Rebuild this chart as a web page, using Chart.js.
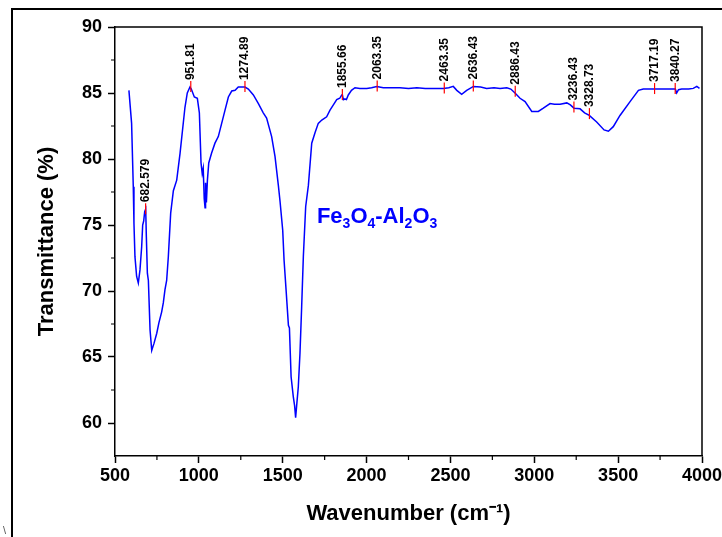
<!DOCTYPE html>
<html>
<head>
<meta charset="utf-8">
<script src="https://cdn.jsdelivr.net/npm/chart.js@4/dist/chart.umd.min.js"></script>
<style>
html,body{margin:0;padding:0;background:#fff;}
canvas{display:block;}
</style>
</head>
<body>
<canvas id="c" width="722" height="537"></canvas>
<script>
// ---- Data ----
const wavenumbers = [583,599,609,613,619,629,639,649,659,665,671,677,683,687,693,699,709,719,733,749,762,778,788,798,808,818,832,848,868,888,917,931,947,955,973,991,1003,1013,1020,1026,1032,1037,1040,1045,1051,1059,1076,1096,1116,1136,1156,1176,1196,1216,1235,1265,1275,1295,1325,1355,1384,1404,1434,1454,1474,1484,1500,1508,1520,1534,1540,1550,1563,1571,1577,1583,1593,1603,1613,1623,1637,1653,1673,1693,1712,1733,1762,1782,1802,1822,1840,1852,1856,1862,1871,1880,1891,1910,1931,1960,2001,2030,2061,2100,2150,2199,2250,2300,2350,2400,2458,2490,2517,2538,2567,2597,2637,2680,2716,2760,2796,2836,2860,2885,2915,2945,2985,3024,3054,3094,3120,3154,3194,3215,3237,3273,3300,3328,3372,3416,3442,3471,3511,3571,3621,3650,3720,3780,3841,3849,3860,3879,3920,3948,3969,3985];
const transmittance = [85.2,82.7,77.9,75.15,72.6,71.1,70.6,71.6,73.35,75.0,75.3,76.0,76.2,74.1,71.35,70.8,67.05,65.5,66.05,66.8,67.6,68.4,69.1,70.1,70.8,72.6,75.9,77.6,78.4,80.45,83.9,85.0,85.45,85.3,84.7,84.6,83.5,79.7,78.9,79.3,77.0,76.3,78.2,76.7,78.4,79.7,80.45,81.2,81.7,82.7,83.7,84.7,85.15,85.2,85.45,85.45,85.45,85.3,84.85,84.2,83.5,83.1,81.7,80.2,78.0,76.8,74.6,72.35,70.1,67.4,67.2,63.5,62.0,61.3,60.4,61.3,62.75,65.3,68.8,72.6,76.4,78.0,81.2,82.0,82.7,82.95,83.2,83.7,84.1,84.5,84.6,84.85,84.85,84.5,84.55,84.5,84.85,85.2,85.4,85.35,85.35,85.4,85.5,85.4,85.4,85.4,85.35,85.4,85.35,85.35,85.35,85.4,85.5,85.2,84.9,85.2,85.5,85.45,85.35,85.4,85.35,85.4,85.3,85.0,84.6,84.35,83.6,83.6,83.85,84.2,84.15,84.15,84.25,84.1,83.85,83.8,83.5,83.3,82.8,82.2,82.1,82.45,83.3,84.35,85.2,85.3,85.3,85.3,85.3,85.0,85.25,85.3,85.3,85.35,85.5,85.35];

const peakLabels = ["682.579","951.81","1274.89","1855.66","2063.35","2463.35","2636.43","2886.43","3236.43","3328.73","3717.19","3840.27"];
const peakWavenumbers = [682.579,951.81,1274.89,1855.66,2063.35,2463.35,2636.43,2886.43,3236.43,3328.73,3717.19,3840.27];
const peakTransmittance = [76.2,85.45,85.45,84.85,85.5,85.35,85.5,85.1,83.9,83.4,85.3,85.3];

const xTickValues = [500,1000,1500,2000,2500,3000,3500,4000];
const yTickValues = [60,65,70,75,80,85,90];
const xMinorTicks = [750,1250,1750,2250,2750,3250,3750];
const yMinorTicks = [62.5,67.5,72.5,77.5,82.5,87.5];

const sampleName = [["Fe",false],["3",true],["O",false],["4",true],["-",false],["Al",false],["2",true],["O",false],["3",true]];
const sampleNamePos = {x: 1704, y: 75.15};

const FONT = "'Liberation Sans', Arial, Helvetica, sans-serif";

const points = wavenumbers.map((w, i) => ({x: w, y: transmittance[i]}));

const decorPlugin = {
  id: 'decor',
  beforeDraw(chart) {
    const ctx = chart.ctx;
    ctx.save();
    ctx.fillStyle = '#fff';
    ctx.fillRect(0, 0, chart.width, chart.height);
    // outer frame (top and left)
    ctx.strokeStyle = '#000';
    ctx.lineWidth = 2;
    ctx.beginPath();
    ctx.moveTo(12, 9); ctx.lineTo(chart.width, 9);
    ctx.moveTo(12, 8); ctx.lineTo(12, chart.height);
    ctx.stroke();
    ctx.fillStyle = '#555';
    ctx.font = "11px " + FONT;
    ctx.textBaseline = 'bottom';
    ctx.fillText('\\', 3, chart.height - 1);
    ctx.restore();
  },
  afterDraw(chart) {
    const ctx = chart.ctx;
    const a = chart.chartArea;
    const xs = chart.scales.x, ys = chart.scales.y;
    ctx.save();
    // top / right frame
    ctx.strokeStyle = '#000';
    ctx.lineWidth = 1.5;
    ctx.beginPath();
    ctx.moveTo(a.left, a.top); ctx.lineTo(a.right, a.top); ctx.lineTo(a.right, a.bottom);
    ctx.stroke();
    // minor ticks
    ctx.lineWidth = 1.2;
    ctx.beginPath();
    xMinorTicks.forEach(v => { const p = xs.getPixelForValue(v); ctx.moveTo(p, a.bottom); ctx.lineTo(p, a.bottom + 4); });
    yMinorTicks.forEach(v => { const p = ys.getPixelForValue(v); ctx.moveTo(a.left, p); ctx.lineTo(a.left - 4, p); });
    ctx.stroke();
    // peak markers + labels
    ctx.strokeStyle = '#ff0000';
    ctx.lineWidth = 1.2;
    ctx.fillStyle = '#000';
    ctx.font = "bold 12px " + FONT;
    peakLabels.forEach((lab, i) => {
      const px = xs.getPixelForValue(peakWavenumbers[i]);
      const py = ys.getPixelForValue(peakTransmittance[i]);
      ctx.beginPath();
      ctx.moveTo(px, py - 6); ctx.lineTo(px, py + 5);
      ctx.stroke();
      ctx.save();
      ctx.translate(px, py - 7);
      ctx.rotate(-Math.PI / 2);
      ctx.textAlign = 'left';
      ctx.textBaseline = 'middle';
      ctx.fillText(lab, 0, 0);
      ctx.restore();
    });
    // sample name with subscripts
    let x = xs.getPixelForValue(sampleNamePos.x);
    const y = ys.getPixelForValue(sampleNamePos.y);
    ctx.fillStyle = '#0000ff';
    ctx.textBaseline = 'alphabetic';
    ctx.textAlign = 'left';
    sampleName.forEach(([t, sub]) => {
      ctx.font = (sub ? "bold 14px " : "bold 22px ") + FONT;
      ctx.fillText(t, x, sub ? y + 5 : y);
      x += ctx.measureText(t).width;
    });
    ctx.restore();
  }
};

new Chart(document.getElementById('c'), {
  type: 'line',
  data: {
    datasets: [{
      data: points,
      borderColor: '#0000ff',
      borderWidth: 1.5,
      pointRadius: 0,
      tension: 0,
      fill: false
    }]
  },
  options: {
    responsive: false,
    animation: false,
    devicePixelRatio: 1,
    layout: {padding: {left: 20, right: 20, top: 27, bottom: 10}},
    plugins: {legend: {display: false}, tooltip: {enabled: false}},
    scales: {
      x: {
        type: 'linear', min: 500, max: 4000,
        afterBuildTicks: s => { s.ticks = xTickValues.map(v => ({value: v})); },
        afterFit: s => { s.height = 71; s.paddingLeft = 0; s.paddingRight = 0; },
        ticks: {font: {family: FONT, size: 18, weight: 'bold'}, color: '#000', padding: 2, maxRotation: 0, autoSkip: false,
                callback: v => String(v)},
        grid: {drawOnChartArea: false, drawTicks: true, tickLength: 7, color: '#000', tickWidth: 1.5},
        border: {display: true, color: '#000', width: 1.5},
        title: {display: true, text: 'Wavenumber (cm\u207B\u00B9)', color: '#000', font: {family: FONT, size: 22, weight: 'bold'}, padding: {top: 0, bottom: 0}}
      },
      y: {
        type: 'linear', min: 57.5, max: 90,
        afterBuildTicks: s => { s.ticks = yTickValues.map(v => ({value: v})); },
        afterFit: s => { s.width = 95; s.paddingTop = 0; s.paddingBottom = 0; },
        ticks: {font: {family: FONT, size: 18, weight: 'bold'}, color: '#000', padding: 6, autoSkip: false,
                callback: v => String(v)},
        grid: {drawOnChartArea: false, drawTicks: true, tickLength: 7, color: '#000', tickWidth: 1.5},
        border: {display: true, color: '#000', width: 1.5},
        title: {display: true, text: 'Transmittance (%)', color: '#000', font: {family: FONT, size: 22, weight: 'bold'}, padding: {top: 14, bottom: 0}}
      }
    }
  },
  plugins: [decorPlugin]
});
</script>
</body>
</html>
